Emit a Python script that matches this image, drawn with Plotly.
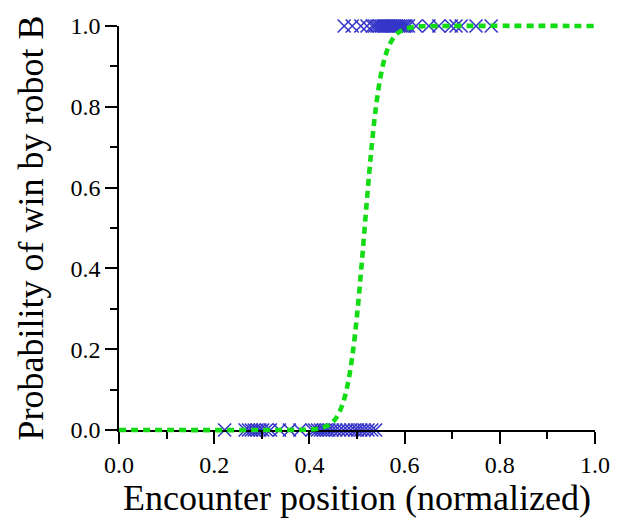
import plotly.graph_objects as go

# Encounter positions (normalized) where robot B won (outcome 1) or lost (outcome 0)
wins_x = [0.473, 0.490, 0.508, 0.521, 0.532, 0.537, 0.542, 0.547, 0.551, 0.555,
          0.559, 0.563, 0.567, 0.571, 0.575, 0.579, 0.583, 0.587, 0.591, 0.595,
          0.599, 0.603, 0.608, 0.624, 0.651, 0.672, 0.698, 0.708, 0.719, 0.750,
          0.782]
losses_x = [0.222, 0.265, 0.272, 0.278, 0.284, 0.290, 0.296, 0.302, 0.310, 0.318,
            0.337, 0.358, 0.380, 0.405, 0.411, 0.417, 0.423, 0.429, 0.435, 0.441,
            0.448, 0.455, 0.463, 0.471, 0.479, 0.487, 0.495, 0.501, 0.508, 0.515,
            0.523, 0.531, 0.539]

# Fitted win-probability curve
curve_x = [0.0, 0.38, 0.40, 0.42, 0.44, 0.45, 0.46, 0.47, 0.48, 0.49, 0.50, 0.51,
           0.52, 0.53, 0.54, 0.55, 0.56, 0.57, 0.58, 0.59, 0.60, 0.62, 0.65, 1.0]
curve_y = [0.0, 0.0004, 0.0012, 0.0038, 0.012, 0.021, 0.037, 0.065, 0.110, 0.181,
           0.283, 0.413, 0.557, 0.692, 0.801, 0.878, 0.928, 0.958, 0.976, 0.986,
           0.992, 0.998, 0.9996, 1.0]

x_ticks = [0.0, 0.2, 0.4, 0.6, 0.8, 1.0]
y_ticks = [0.0, 0.2, 0.4, 0.6, 0.8, 1.0]
tick_text = ["0.0", "0.2", "0.4", "0.6", "0.8", "1.0"]

BLUE = "#3535c8"
GREEN = "#14dc14"
FONT = "Liberation Serif"

# Plot-area geometry (pixels): main axes sit inside a slightly taller
# drawing area so the thick dotted curve is not clipped at y=0 and y=1.
H = 521
M_TOP, M_BOT = 20, 85
AREA = H - M_TOP - M_BOT
Y1_PX, Y0_PX = 26, 430
dom_lo = (H - M_BOT - Y0_PX) / AREA
dom_hi = (H - M_BOT - Y1_PX) / AREA
per_px = 1.0 / (Y0_PX - Y1_PX)
pad_lo = (H - M_BOT - Y0_PX) * per_px
pad_hi = (Y1_PX - M_TOP) * per_px

fig = go.Figure()

marker_style = dict(symbol="x-thin-open", size=13, color=BLUE,
                    line=dict(color=BLUE, width=1.6))

fig.add_trace(go.Scatter(x=wins_x, y=[1] * len(wins_x), mode="markers",
                         marker=marker_style, cliponaxis=False, showlegend=False))
fig.add_trace(go.Scatter(x=losses_x, y=[0] * len(losses_x), mode="markers",
                         marker=marker_style, cliponaxis=False, showlegend=False))
fig.add_trace(go.Scatter(x=curve_x, y=curve_y, mode="lines", yaxis="y2",
                         line=dict(color=GREEN, width=4.6, dash="7px,5px", shape="spline"),
                         showlegend=False))

axis_common = dict(
    showline=True, linecolor="black", linewidth=1.5, mirror=False,
    showgrid=False, zeroline=False, automargin=False,
    ticks="outside", ticklen=12, tickwidth=1.5, tickcolor="black",
    tickfont=dict(family=FONT, size=24, color="black"),
    minor=dict(ticks="outside", ticklen=7, tickwidth=1.5, tickcolor="black",
               dtick=0.1, showgrid=False),
    range=[0, 1],
)

fig.update_layout(
    width=618, height=H,
    margin=dict(l=119, r=23, t=M_TOP, b=M_BOT),
    paper_bgcolor="white", plot_bgcolor="rgba(0,0,0,0)",
    font=dict(family=FONT, color="black"),
    xaxis=dict(**axis_common, tickvals=x_ticks, ticktext=tick_text, anchor="y",
               title=dict(text="Encounter position (normalized)",
                          font=dict(family=FONT, size=36, color="black"),
                          standoff=6)),
    yaxis=dict(**axis_common, tickvals=y_ticks, ticktext=tick_text, anchor="x",
               domain=[dom_lo, dom_hi],
               title=dict(text="Probability of win by robot B",
                          font=dict(family=FONT, size=36, color="black"),
                          standoff=16)),
    yaxis2=dict(domain=[0, 1], range=[-pad_lo, 1 + pad_hi], anchor="x",
                visible=False, showgrid=False, zeroline=False),
)

fig.write_html("out.html")
